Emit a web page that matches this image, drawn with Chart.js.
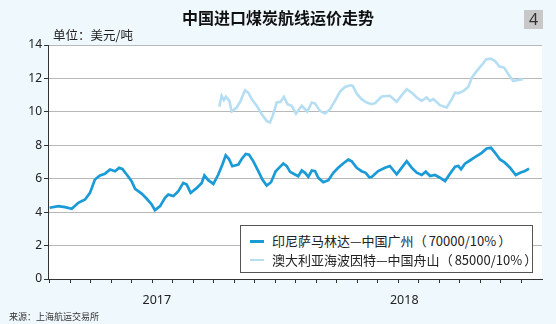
<!DOCTYPE html>
<html><head><meta charset="utf-8">
<script src="https://cdn.jsdelivr.net/npm/chart.js@4/dist/chart.umd.min.js"></script>
<style>
html,body{margin:0;padding:0;background:#eff8fd;}
#wrap{position:relative;width:556px;height:324px;overflow:hidden;font-family:"Noto Sans CJK SC","Noto Sans",sans-serif;color:#222;}
#c{position:absolute;left:0;top:0;}
#title{position:absolute;left:0;top:8px;width:556px;text-align:center;font-size:16px;font-weight:bold;line-height:18px;color:#111;}
#num{position:absolute;left:524px;top:10px;width:19px;height:19px;background:#c8c8c8;color:#333;font-family:"Noto Sans",sans-serif;font-size:16px;line-height:19px;text-align:center;}
#unit{position:absolute;left:53px;top:28px;font-size:12.5px;line-height:14px;}
#src{position:absolute;left:9px;top:311px;font-size:9px;line-height:11px;color:#333;}
#legend{position:absolute;left:240px;top:225px;width:291px;height:46px;border:1px solid #555;background:#fff;}
.row{position:absolute;left:0;height:18px;width:291px;}
.sw{position:absolute;left:9px;width:14px;}
.lt{position:absolute;left:31px;top:0;font-size:13px;line-height:18px;white-space:nowrap;}
.po{margin-right:2px;}
.pc{margin-left:2px;}
</style></head>
<body>
<div id="wrap">
<canvas id="c" width="556" height="324"></canvas>
<div id="title">中国进口煤炭航线运价走势</div>
<div id="num">4</div>
<div id="unit">单位：美元/吨</div>
<div id="src">来源：上海航运交易所</div>
<div id="legend"></div>
</div>
<script>
// ---- data (x in months from the first tick mark) ----
const yearLabels = ["2017", "2018"];
const yearLabelMonths = [5.23, 17.3];
const seriesNames = ["印尼萨马林达—中国广州（70000/10%）", "澳大利亚海波因特—中国舟山（85000/10%）"];

const idnMonths = [0,0.43,0.75,1.08,1.40,1.73,1.97,2.21,2.46,2.70,2.95,3.19,3.39,3.55,3.76,4.00,4.17,4.49,4.74,4.98,5.14,5.39,5.63,5.79,6.04,6.28,6.52,6.69,6.88,7.18,7.42,7.55,7.74,7.99,8.23,8.43,8.59,8.75,8.91,9.21,9.37,9.57,9.73,9.94,10.18,10.38,10.59,10.80,11.03,11.24,11.40,11.57,11.73,11.97,12.13,12.30,12.46,12.62,12.79,12.95,13.11,13.35,13.60,13.84,14.08,14.32,14.57,14.74,14.98,15.22,15.42,15.60,15.71,16.03,16.36,16.60,16.93,17.18,17.42,17.66,17.91,18.15,18.35,18.56,18.80,19.04,19.29,19.53,19.78,19.94,20.07,20.26,20.50,20.75,21.08,21.32,21.53,21.73,21.97,22.21,22.46,22.74,22.95,23.19,23.39];
const idnRates = [4.26,4.36,4.30,4.20,4.56,4.76,5.15,5.95,6.20,6.29,6.55,6.45,6.65,6.59,6.25,5.85,5.39,5.11,4.80,4.46,4.12,4.36,4.86,5.05,4.96,5.25,5.75,5.65,5.15,5.45,5.75,6.19,5.91,5.69,6.25,6.85,7.40,7.18,6.75,6.85,7.18,7.48,7.44,7.04,6.45,5.95,5.59,5.79,6.45,6.71,6.91,6.75,6.41,6.25,6.15,6.49,6.35,6.11,6.49,6.45,6.05,5.79,5.91,6.35,6.65,6.91,7.14,7.04,6.65,6.45,6.35,6.08,6.10,6.46,6.66,6.76,6.26,6.66,7.05,6.66,6.36,6.22,6.42,6.16,6.22,6.06,5.86,6.30,6.72,6.76,6.56,6.90,7.09,7.29,7.55,7.81,7.85,7.55,7.15,6.96,6.66,6.22,6.36,6.46,6.60];

const ausMonths = [8.28,8.39,8.50,8.60,8.77,8.88,9.13,9.32,9.53,9.69,9.86,10.10,10.35,10.59,10.75,10.88,11.08,11.27,11.43,11.60,11.81,12.02,12.30,12.57,12.79,12.95,13.19,13.43,13.68,13.92,14.17,14.41,14.66,14.79,14.98,15.22,15.47,15.71,15.88,16.20,16.60,16.93,17.18,17.42,17.66,17.91,18.15,18.39,18.56,18.72,19.04,19.37,19.62,19.78,19.94,20.19,20.43,20.60,20.84,21.08,21.29,21.52,21.73,21.94,22.17,22.38,22.62,22.86,23.10];
const ausRates = [10.30,10.96,10.70,10.90,10.66,10.02,10.26,10.66,11.29,11.15,10.76,10.36,9.86,9.46,9.36,9.76,10.56,10.60,10.90,10.46,10.36,9.90,10.36,10.02,10.56,10.50,10.06,9.90,10.16,10.66,11.21,11.49,11.59,11.55,11.09,10.76,10.56,10.46,10.52,10.92,10.96,10.60,11.00,11.35,11.15,10.86,10.66,10.86,10.66,10.76,10.40,10.26,10.76,11.15,11.11,11.25,11.51,12.05,12.45,12.79,13.14,13.18,13.04,12.71,12.65,12.25,11.85,11.91,11.95];

const yTicks = [0, 2, 4, 6, 8, 10, 12, 14];

// ---- chart ----
const X_MIN = -0.078, X_MAX = 24.02;
const colors = ["#1a9ad6", "#b6def3"];
const widths = [2.7, 2.6];

const toPts = (xs, ys) => xs.map((x, i) => ({x: x, y: ys[i]}));

const whiteArea = {
  id: 'whiteArea',
  beforeDraw(chart) {
    const a = chart.chartArea, ctx = chart.ctx;
    ctx.save(); ctx.fillStyle = '#ffffff';
    ctx.fillRect(a.left, a.top, a.right - a.left, a.bottom - a.top);
    ctx.restore();
  }
};

new Chart(document.getElementById('c'), {
  type: 'line',
  data: {
    datasets: [
      {label: seriesNames[0], data: toPts(idnMonths, idnRates), borderColor: colors[0], borderWidth: widths[0], pointRadius: 0, tension: 0, fill: false, order: 1},
      {label: seriesNames[1], data: toPts(ausMonths, ausRates), borderColor: colors[1], borderWidth: widths[1], pointRadius: 0, tension: 0, fill: false, order: 2}
    ]
  },
  options: {
    responsive: false, animation: false, devicePixelRatio: 1,
    layout: {padding: {top: 45, right: 14, bottom: 18, left: 0}},
    plugins: {legend: {display: false}, tooltip: {enabled: false}, title: {display: false}},
    scales: {
      x: {
        type: 'linear', position: 'bottom', min: X_MIN, max: X_MAX, weight: 0,
        afterBuildTicks: s => { const t = []; for (let m = 0; m <= 23; m++) t.push({value: m}); s.ticks = t; },
        ticks: {display: false},
        grid: {drawOnChartArea: false, drawTicks: true, tickLength: 4, tickColor: '#333', color: '#333'},
        border: {color: '#333', width: 1},
        afterFit: s => { s.height = 5; }
      },
      x2: {
        type: 'linear', position: 'bottom', min: X_MIN, max: X_MAX, weight: 1,
        afterBuildTicks: s => { s.ticks = yearLabelMonths.map(v => ({value: v})); },
        ticks: {callback: (v, i) => yearLabels[i], padding: 9, autoSkip: false, maxRotation: 0, color: '#222', font: {family: '"Noto Sans", sans-serif', size: 12.5}},
        grid: {display: false, drawTicks: false},
        border: {display: false},
        afterFit: s => { s.height = 22; }
      },
      y: {
        min: 0, max: 14,
        afterBuildTicks: s => { s.ticks = yTicks.map(v => ({value: v})); },
        ticks: {padding: 2, color: '#222', font: {family: '"Noto Sans", sans-serif', size: 12}},
        grid: {color: c => (c.tick && c.tick.value === 0) ? 'rgba(0,0,0,0)' : '#b8b8b8', lineWidth: 1, tickColor: '#333', tickLength: 4},
        border: {color: '#333', width: 1},
        afterFit: s => { s.width = 48; }
      }
    }
  },
  plugins: [whiteArea]
});

// ---- HTML legend built from the series ----
const lg = document.getElementById('legend');
const rowTops = [6, 25];
const swH = [3, 2];
seriesNames.forEach((name, i) => {
  const r = document.createElement('div'); r.className = 'row'; r.style.top = rowTops[i] + 'px';
  const sw = document.createElement('div'); sw.className = 'sw';
  sw.style.height = swH[i] + 'px'; sw.style.top = (9 - swH[i] / 2) + 'px'; sw.style.background = colors[i];
  const t = document.createElement('div'); t.className = 'lt';
  // split so the full-width brackets can get a little extra spacing, text unchanged
  for (const ch of name) {
    if (ch === '（' || ch === '）') {
      const s = document.createElement('span'); s.className = ch === '（' ? 'po' : 'pc'; s.textContent = ch; t.appendChild(s);
    } else {
      t.appendChild(document.createTextNode(ch));
    }
  }
  t.normalize();
  r.appendChild(sw); r.appendChild(t); lg.appendChild(r);
});
</script>
</body></html>
